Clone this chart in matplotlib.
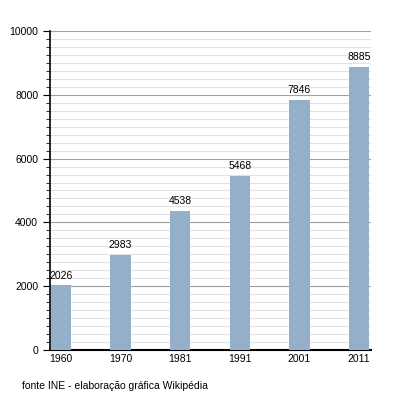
import numpy as np
import matplotlib.pyplot as plt
from matplotlib.ticker import MultipleLocator

plt.rcParams['font.family'] = ['Liberation Sans', 'DejaVu Sans']

years = ['1960', '1970', '1981', '1991', '2001', '2011']
# bar heights as drawn in the picture (1981 bar sits lower than its label)
heights = [2026, 2983, 4357, 5468, 7846, 8885]
labels = ['2026', '2983', '4538', '5468', '7846', '8885']

fig = plt.figure(figsize=(4, 4), dpi=100)
ax = fig.add_axes([50/400, 1-350/400, 321/400, 319/400])

x = np.arange(len(years))
ax.bar(x, heights, width=0.34, color='#94afca', zorder=3)
for xi, h, lab in zip(x, heights, labels):
    ax.text(xi, h + 150, lab, ha='center', va='bottom', fontsize=7.5, zorder=4)

ax.set_xlim(-0.18, 5.2)
ax.set_ylim(0, 10000)
ax.yaxis.set_major_locator(MultipleLocator(2000))
ax.yaxis.set_minor_locator(MultipleLocator(250))
ax.grid(which='major', axis='y', color='#a0a0a0', linewidth=0.8, zorder=1)
ax.grid(which='minor', axis='y', color='#e2e2e2', linewidth=0.8, zorder=0)
ax.set_xticks(x)
ax.set_xticklabels(years)
ax.tick_params(axis='x', length=0, labelsize=7.5, pad=3)
ax.tick_params(axis='y', which='major', length=5, labelsize=7.5, direction='out')
ax.tick_params(axis='y', which='minor', length=3, direction='out')
for s in ['top', 'right']:
    ax.spines[s].set_visible(False)
ax.spines['left'].set_linewidth(1.2)
ax.spines['bottom'].set_linewidth(1.5)

fig.text(22/400, 1-389/400, 'fonte INE - elaboração gráfica Wikipédia', fontsize=7.5)

fig.savefig('out.png', dpi=100)
